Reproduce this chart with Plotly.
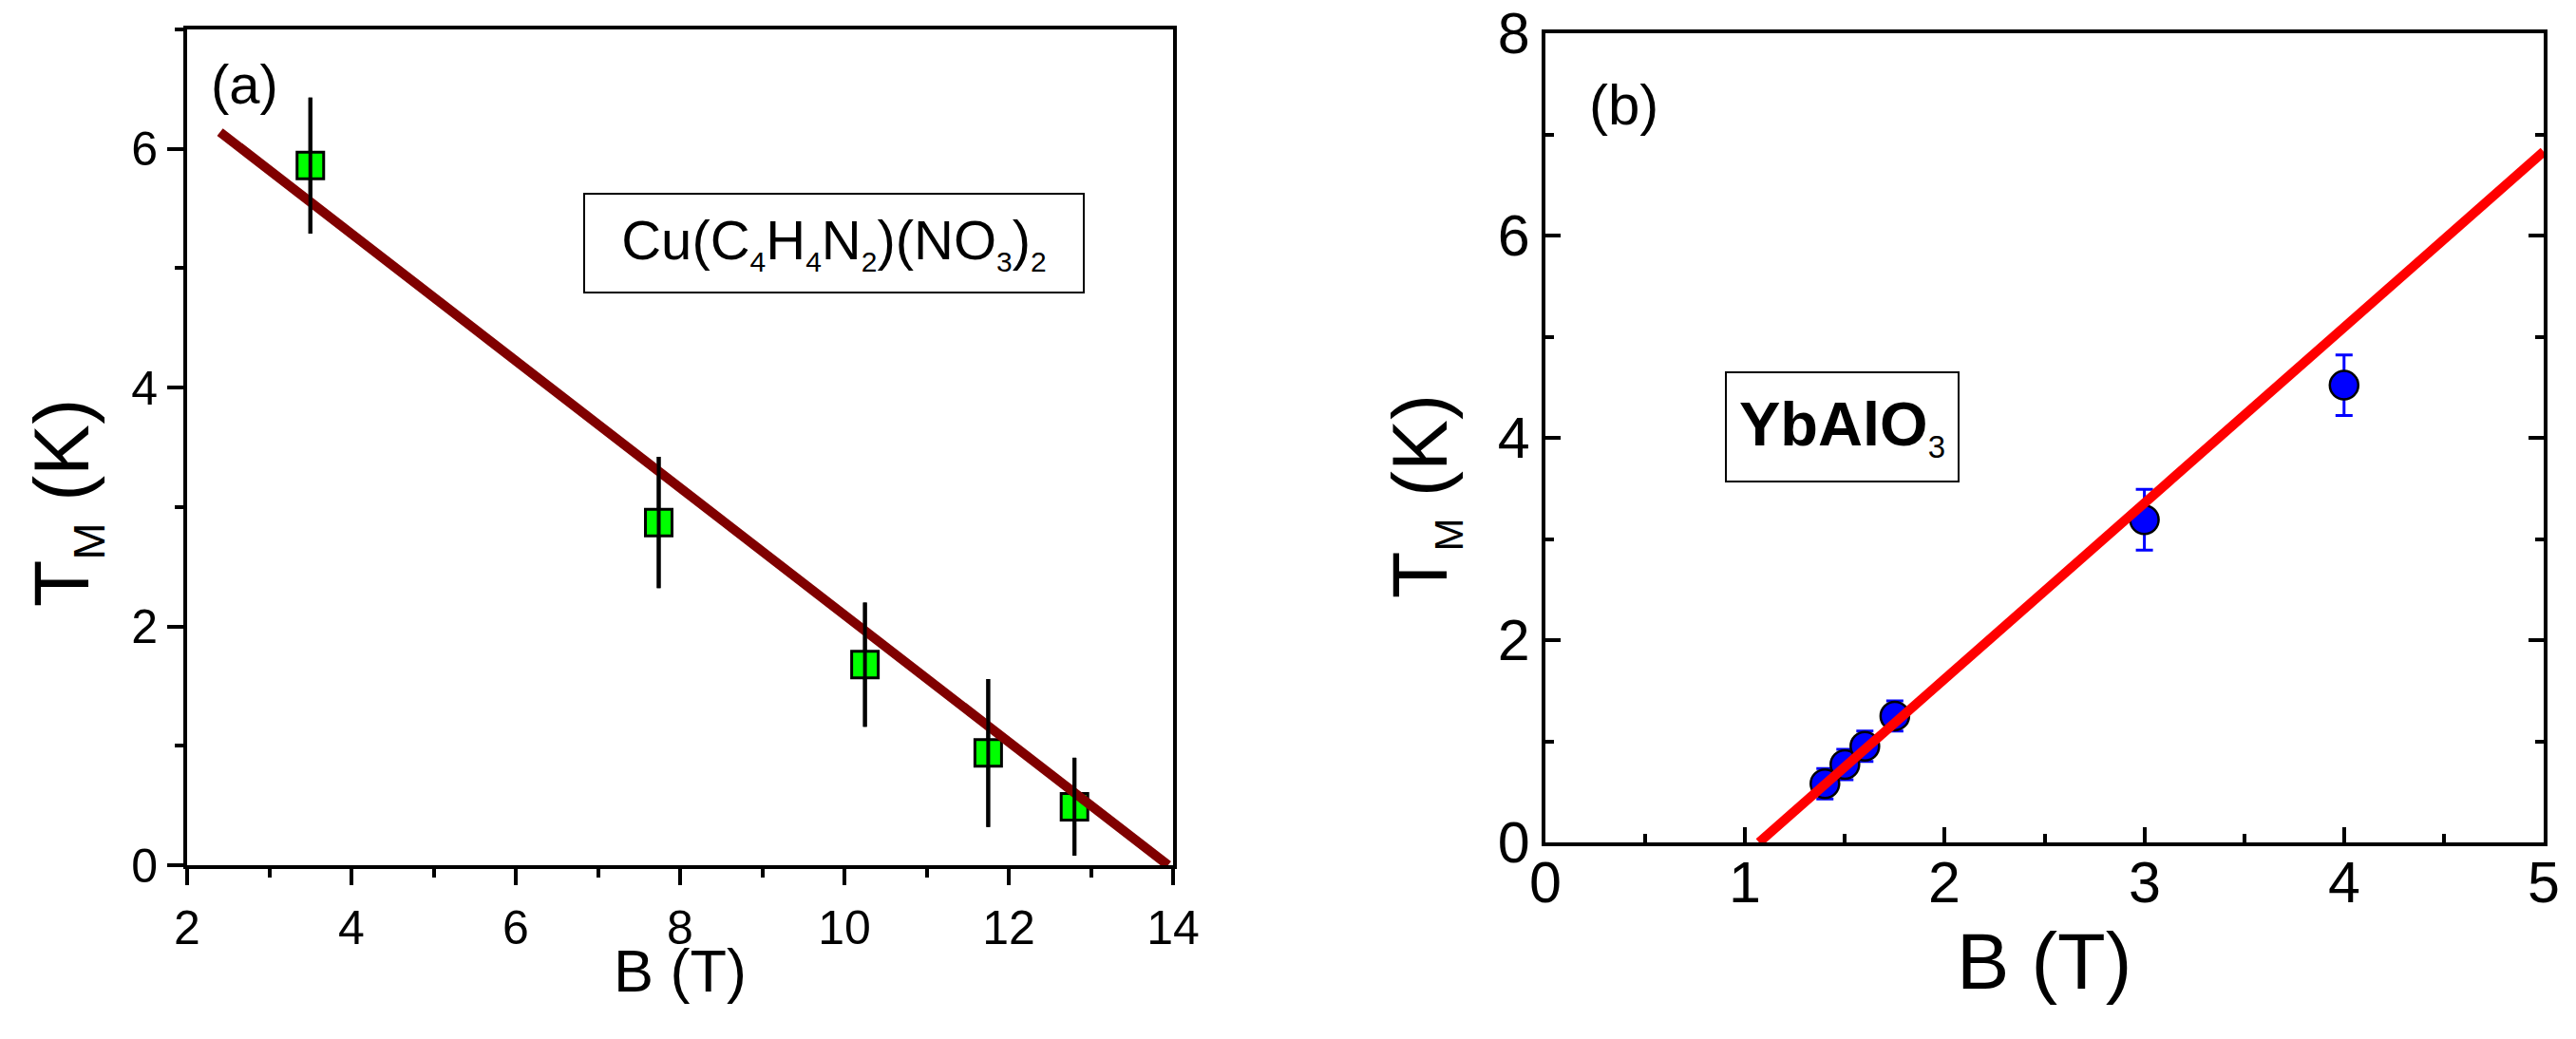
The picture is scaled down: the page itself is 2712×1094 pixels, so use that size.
import plotly.graph_objects as go

# ---------------- data ----------------
# Panel (a): Cu(C4H4N2)(NO3)2
B_a = [3.50, 7.74, 10.25, 11.75, 12.80]
T_a = [5.86, 2.87, 1.68, 0.94, 0.49]
err_a = [0.57, 0.55, 0.52, 0.62, 0.41]
fit_a_B = [2.40, 13.94]
fit_a_T = [6.14, 0.00]

# Panel (b): YbAlO3
B_b = [1.40, 1.50, 1.60, 1.75, 3.00, 4.00]
T_b = [0.58, 0.77, 0.95, 1.25, 3.19, 4.52]
err_b = [0.15, 0.15, 0.15, 0.15, 0.30, 0.30]
fit_b_B = [1.07, 5.00]
fit_b_T = [0.00, 6.83]

xticks_a = [2, 4, 6, 8, 10, 12, 14]
xminor_a = [3, 5, 7, 9, 11, 13]
yticks_a = [0, 2, 4, 6]
yminor_a = [1, 3, 5, 7]
xticks_b = [0, 1, 2, 3, 4, 5]
xminor_b = [0.5, 1.5, 2.5, 3.5, 4.5]
yticks_b = [0, 2, 4, 6, 8]
yminor_b = [1, 3, 5, 7]

W, H = 2712, 1094
FONT = "Liberation Sans, Arial, sans-serif"


def fx(p):
    return p / W


def fy(p):
    return 1 - p / H


fig = go.Figure()

# ---- panel (a) ----
fig.add_trace(go.Scatter(
    x=B_a, y=T_a, mode="markers", xaxis="x", yaxis="y",
    marker=dict(symbol="square", size=28, color="#00ff00",
                line=dict(color="black", width=3)),
    error_y=dict(type="data", array=err_a, color="black", thickness=4, width=0),
    showlegend=False))
fig.add_trace(go.Scatter(
    x=fit_a_B, y=fit_a_T, mode="lines", xaxis="x", yaxis="y",
    line=dict(color="#800000", width=10), showlegend=False))
fig.add_trace(go.Scatter(
    x=B_a, y=T_a, mode="markers", xaxis="x", yaxis="y",
    marker=dict(size=1, opacity=0),
    error_y=dict(type="data", array=err_a, color="black", thickness=4, width=0),
    showlegend=False, hoverinfo="skip"))

# ---- panel (b) ----
fig.add_trace(go.Scatter(
    x=B_b, y=T_b, mode="markers", xaxis="x2", yaxis="y2",
    marker=dict(symbol="circle", size=30, color="#0000ff",
                line=dict(color="black", width=2.5)),
    error_y=dict(type="data", array=err_b, color="#0000ff", thickness=3, width=9),
    showlegend=False))
fig.add_trace(go.Scatter(
    x=fit_b_B, y=fit_b_T, mode="lines", xaxis="x2", yaxis="y2",
    line=dict(color="#ff0000", width=10), showlegend=False))

axis_common = dict(showgrid=False, zeroline=False, showline=True,
                   linecolor="black", linewidth=4, tickcolor="black",
                   tickwidth=4, automargin=False)

fig.update_layout(
    width=W, height=H,
    margin=dict(l=0, r=0, t=0, b=0, pad=0, autoexpand=False),
    paper_bgcolor="white", plot_bgcolor="white",
    font=dict(family=FONT, color="black"),
    xaxis=dict(domain=[fx(197), fx(1235)], range=[2, 14], anchor="y",
               tickmode="array", tickvals=xticks_a, ticks="outside", ticklen=17,
               mirror=True, tickfont=dict(size=50, family=FONT),
               ticklabelstandoff=2,
               minor=dict(tickmode="array", tickvals=xminor_a, ticks="outside",
                          ticklen=9, tickwidth=4, tickcolor="black"),
               **axis_common),
    yaxis=dict(domain=[fy(911), fy(31)], range=[0, 7], anchor="x",
               tickmode="array", tickvals=yticks_a, ticks="outside", ticklen=17,
               mirror=True, tickfont=dict(size=50, family=FONT),
               minor=dict(tickmode="array", tickvals=yminor_a, ticks="outside",
                          ticklen=9, tickwidth=4, tickcolor="black"),
               **axis_common),
    xaxis2=dict(domain=[fx(1627), fx(2678)], range=[0, 5], anchor="y2",
                tickmode="array", tickvals=xticks_b, ticks="inside", ticklen=16,
                mirror=True, showticklabels=False,
                minor=dict(tickmode="array", tickvals=xminor_b, ticks="inside",
                           ticklen=9, tickwidth=4, tickcolor="black"),
                **axis_common),
    yaxis2=dict(domain=[fy(887), fy(35)], range=[0, 8], anchor="x2",
                tickmode="array", tickvals=yticks_b, ticks="inside", ticklen=16,
                mirror="ticks", tickfont=dict(size=61, family=FONT),
                minor=dict(tickmode="array", tickvals=yminor_b, ticks="inside",
                           ticklen=9, tickwidth=4, tickcolor="black"),
                **axis_common),
)


def sub(s, size):
    return "<sub><span style='font-size:%dpx'>%s</span></sub>" % (size, s)


def note(text, px, py, size, **kw):
    d = dict(text=text, x=fx(px), y=fy(py), xref="paper", yref="paper",
             xanchor="center", yanchor="middle", showarrow=False,
             font=dict(size=size, family=FONT, color="black"))
    d.update(kw)
    return d


ann = [
    note("(a)", 257, 88, 58),
    note("(b)", 1709, 110, 60),
    note("Cu(C" + sub("4", 30) + "H" + sub("4", 30) + "N" + sub("2", 30)
         + ")(NO" + sub("3", 30) + ")" + sub("2", 30),
         878, 256, 58, bordercolor="black", borderwidth=2, borderpad=0,
         width=524, height=102, bgcolor="white"),
    note("<b>YbAlO</b>" + sub("3", 33), 1939, 449, 65,
         bordercolor="black", borderwidth=2, borderpad=0,
         width=243, height=113, bgcolor="white"),
    note("B (T)", 716, 1022, 63),
    note("B (T)", 2152, 1012, 83),
    note("T" + sub("M", 47) + " (K)", 70, 530, 81, textangle=-90),
    note("T" + sub("M", 42) + " (K)", 1499, 523, 81, textangle=-90),
]
# x tick labels of panel (b), placed at the axis' own tick values
for v in xticks_b:
    ann.append(dict(text=str(v), x=v, xref="x2", y=fy(929), yref="paper",
                    xanchor="center", yanchor="middle", showarrow=False,
                    font=dict(size=61, family=FONT, color="black")))
fig.update_layout(annotations=ann)

fig.write_html("out.html")
